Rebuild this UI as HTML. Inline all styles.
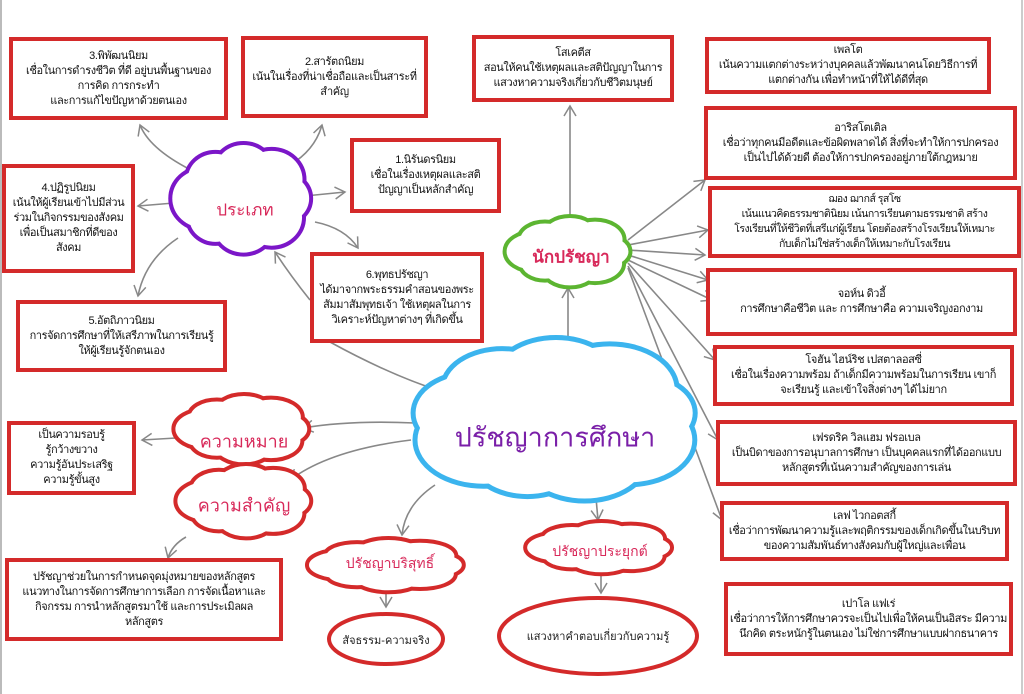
<!DOCTYPE html>
<html><head><meta charset="utf-8">
<style>
html,body{margin:0;padding:0;background:#fff;}
body{width:1024px;height:694px;overflow:hidden;position:relative;font-family:"Liberation Sans","Noto Sans CJK SC","WenQuanYi Zen Hei",sans-serif;}
svg{position:absolute;left:0;top:0;}
.b{position:absolute;box-sizing:border-box;border:4px solid #d42a2a;background:#fff;display:flex;align-items:center;justify-content:center;text-align:center;font-size:11px;line-height:15px;color:#111;white-space:nowrap;letter-spacing:-0.4px;overflow:hidden;}
.lbl{position:absolute;color:#d8295a;text-align:center;white-space:nowrap;transform:translate(-50%,-50%);}
</style></head><body>
<svg id="s" width="1024" height="694" viewBox="0 0 1024 694">
<defs><marker id="a" markerWidth="14" markerHeight="14" refX="11" refY="7" orient="auto" markerUnits="userSpaceOnUse"><path d="M1,1 L11,7 L1,13" fill="none" stroke="#888" stroke-width="1.5"/></marker></defs>
<line x1="1" y1="0" x2="1" y2="694" stroke="#bbb" stroke-width="2"/>
<line x1="1022" y1="0" x2="1022" y2="694" stroke="#ccc" stroke-width="2"/>
<g id="arrows" fill="none" stroke="#888" stroke-width="1.6" marker-end="url(#a)">
<path d="M195,172 Q150,150 140,125"/>
<path d="M290,165 Q315,150 322,125"/>
<path d="M305,196 Q325,194 345,192"/>
<path d="M174,203 L138,206"/>
<path d="M178,238 Q145,260 138,296"/>
<path d="M315,222 Q345,228 358,248"/>
<path d="M310,300 Q290,275 275,252"/>
<path d="M570,218 L570,106"/>
<path d="M568,345 L568,288"/>
<path d="M628,240 L705,180"/>
<path d="M628,245 L708,230"/>
<path d="M628,250 L705,255"/>
<path d="M628,255 L708,280"/>
<path d="M628,260 L712,300"/>
<path d="M628,263 L715,360"/>
<path d="M628,266 L718,440"/>
<path d="M628,268 L722,520"/>
<path d="M415,423 Q350,420 303,428"/>
<path d="M411,440 Q330,450 290,480"/>
<path d="M176,438 L142,440"/>
<path d="M186,537 Q172,545 168,558"/>
<path d="M435,485 Q405,505 402,535"/>
<path d="M596,498 L598,520"/>
<path d="M386,588 L386,607"/>
<path d="M601,576 L601,593"/>
</g>
<path d="M330,342 Q390,375 443,392" fill="none" stroke="#888" stroke-width="1.6"/>
<g id="clouds"></g>
</svg>

<div class="b" style="left:9px;top:37px;width:219px;height:83px;">3.พิพัฒนนิยม<br>เชื่อในการดำรงชีวิต ที่ดี อยู่บนพื้นฐานของ<br>การคิด การกระทำ<br>และการแก้ไขปัญหาด้วยตนเอง</div>
<div class="b" style="left:241px;top:36px;width:187px;height:82px;">2.สารัตถนิยม<br>เน้นในเรื่องที่น่าเชื่อถือและเป็นสาระที่<br>สำคัญ</div>
<div class="b" style="left:350px;top:138px;width:151px;height:75px;">1.นิรันดรนิยม<br>เชื่อในเรื่องเหตุผลและสติ<br>ปัญญาเป็นหลักสำคัญ</div>
<div class="b" style="left:2px;top:164px;width:133px;height:109px;">4.ปฏิรูปนิยม<br>เน้นให้ผู้เรียนเข้าไปมีส่วน<br>ร่วมในกิจกรรมของสังคม<br>เพื่อเป็นสมาชิกที่ดีของ<br>สังคม</div>
<div class="b" style="left:16px;top:300px;width:211px;height:72px;">5.อัตถิภาวนิยม<br>การจัดการศึกษาที่ให้เสรีภาพในการเรียนรู้<br>ให้ผู้เรียนรู้จักตนเอง</div>
<div class="b" style="left:310px;top:252px;width:174px;height:91px;">6.พุทธปรัชญา<br>ได้มาจากพระธรรมคำสอนของพระ<br>สัมมาสัมพุทธเจ้า ใช้เหตุผลในการ<br>วิเคราะห์ปัญหาต่างๆ ที่เกิดขึ้น</div>
<div class="b" style="left:472px;top:35px;width:202px;height:67px;">โสเคตีส<br>สอนให้คนใช้เหตุผลและสติปัญญาในการ<br>แสวงหาความจริงเกี่ยวกับชีวิตมนุษย์</div>
<div class="b" style="left:705px;top:37px;width:286px;height:57px;">เพลโต<br>เน้นความแตกต่างระหว่างบุคคลแล้วพัฒนาคนโดยวิธีการที่<br>แตกต่างกัน เพื่อทำหน้าที่ให้ได้ดีที่สุด</div>
<div class="b" style="left:704px;top:106px;width:313px;height:74px;">อาริสโตเติล<br>เชื่อว่าทุกคนมีอดีตและข้อผิดพลาดได้ สิ่งที่จะทำให้การปกครอง<br>เป็นไปได้ด้วยดี ต้องให้การปกครองอยู่ภายใต้กฎหมาย</div>
<div class="b" style="left:708px;top:186px;width:313px;height:72px;font-size:10.5px;line-height:15px;letter-spacing:-0.5px;">ฌอง ฌากส์ รุสโซ<br>เน้นแนวคิดธรรมชาตินิยม เน้นการเรียนตามธรรมชาติ สร้าง<br>โรงเรียนที่ให้ชีวิตที่เสรีแก่ผู้เรียน โดยต้องสร้างโรงเรียนให้เหมาะ<br>กับเด็กไม่ใช่สร้างเด็กให้เหมาะกับโรงเรียน</div>
<div class="b" style="left:706px;top:268px;width:311px;height:68px;">จอห์น ดิวอี้<br>การศึกษาคือชีวิต และ การศึกษาคือ ความเจริญงอกงาม</div>
<div class="b" style="left:713px;top:345px;width:301px;height:61px;">โจฮัน ไฮน์ริช เปสตาลอสซี่<br>เชื่อในเรื่องความพร้อม ถ้าเด็กมีความพร้อมในการเรียน เขาก็<br>จะเรียนรู้ และเข้าใจสิ่งต่างๆ ได้ไม่ยาก</div>
<div class="b" style="left:716px;top:420px;width:301px;height:66px;">เฟรดริค วิลแฮม ฟรอเบล<br>เป็นบิดาของการอนุบาลการศึกษา เป็นบุคคลแรกที่ได้ออกแบบ<br>หลักสูตรที่เน้นความสำคัญของการเล่น</div>
<div class="b" style="left:720px;top:501px;width:289px;height:60px;">เลฟ ไวกอตสกี้<br>เชื่อว่าการพัฒนาความรู้และพฤติกรรมของเด็กเกิดขึ้นในบริบท<br>ของความสัมพันธ์ทางสังคมกับผู้ใหญ่และเพื่อน</div>
<div class="b" style="left:724px;top:582px;width:289px;height:74px;">เปาโล แฟเร่<br>เชื่อว่าการให้การศึกษาควรจะเป็นไปเพื่อให้คนเป็นอิสระ มีความ<br>นึกคิด ตระหนักรู้ในตนเอง ไม่ใช่การศึกษาแบบฝากธนาคาร</div>
<div class="b" style="left:7px;top:421px;width:129px;height:74px;">เป็นความรอบรู้<br>รู้กว้างขวาง<br>ความรู้อันประเสริฐ<br>ความรู้ขั้นสูง</div>
<div class="b" style="left:5px;top:558px;width:278px;height:83px;">ปรัชญาช่วยในการกำหนดจุดมุ่งหมายของหลักสูตร<br>แนวทางในการจัดการศึกษาการเลือก การจัดเนื้อหาและ<br>กิจกรรม การนำหลักสูตรมาใช้ และการประเมิลผล<br>หลักสูตร</div>

<div class="lbl" style="left:245px;top:210px;font-size:17px;">ประเภท</div>
<div class="lbl" style="left:571px;top:257px;font-size:17px;font-weight:bold;">นักปรัชญา</div>
<div class="lbl" style="left:555px;top:437px;font-size:27px;color:#7a1fa8;">ปรัชญาการศึกษา</div>
<div class="lbl" style="left:244px;top:441px;font-size:18px;">ความหมาย</div>
<div class="lbl" style="left:244px;top:505px;font-size:18px;">ความสำคัญ</div>
<div class="lbl" style="left:390px;top:564px;font-size:14px;">ปรัชญาบริสุทธิ์</div>
<div class="lbl" style="left:600px;top:552px;font-size:14px;">ปรัชญาประยุกต์</div>
<div class="lbl" style="left:386px;top:640px;font-size:11px;color:#222;">สัจธรรม-ความจริง</div>
<div class="lbl" style="left:598px;top:636px;font-size:11px;color:#222;">แสวงหาคำตอบเกี่ยวกับความรู้</div>

<script>
var NS="http://www.w3.org/2000/svg",g=document.getElementById("clouds");
function el(n,a){var e=document.createElementNS(NS,n);for(var k in a)e.setAttribute(k,a[k]);g.appendChild(e);return e;}
function cloud(x0,y0,x1,y1,col,sw,n){
 var cx=(x0+x1)/2,cy=(y0+y1)/2,rx=(x1-x0)/2,ry=(y1-y0)/2;
 var brx=rx*0.42,bry=ry*0.5,cs=[];
 for(var i=0;i<n;i++){var t=i/n*2*Math.PI-Math.PI/2;
  var k=1+0.1*Math.sin(i*2.3);
  cs.push([cx+(rx-brx)*Math.cos(t),cy+(ry-bry)*Math.sin(t),brx*k,bry*k]);}
 cs.forEach(function(c){el("ellipse",{cx:c[0],cy:c[1],rx:c[2],ry:c[3],fill:"#fff",stroke:col,"stroke-width":sw*2});});
 cs.forEach(function(c){el("ellipse",{cx:c[0],cy:c[1],rx:c[2],ry:c[3],fill:"#fff"});});
 el("ellipse",{cx:cx,cy:cy,rx:rx-brx*0.8,ry:ry-bry*0.8,fill:"#fff"});
}
cloud(175,145,312,252,"#7b16c8",4,8);
cloud(509,218,631,285,"#5cb531",4,8);
cloud(412,340,700,500,"#3bb4ee",5,9);
cloud(178,396,310,462,"#d42a2a",4,8);
cloud(180,466,312,536,"#d42a2a",4,8);
cloud(312,540,465,590,"#d42a2a",4,8);
cloud(530,523,673,572,"#d42a2a",4,8);
el("ellipse",{cx:386,cy:639,rx:57,ry:25,fill:"#fff",stroke:"#d42a2a","stroke-width":4});
el("ellipse",{cx:598,cy:636,rx:99,ry:38,fill:"#fff",stroke:"#d42a2a","stroke-width":4});
</script>
</body></html>
